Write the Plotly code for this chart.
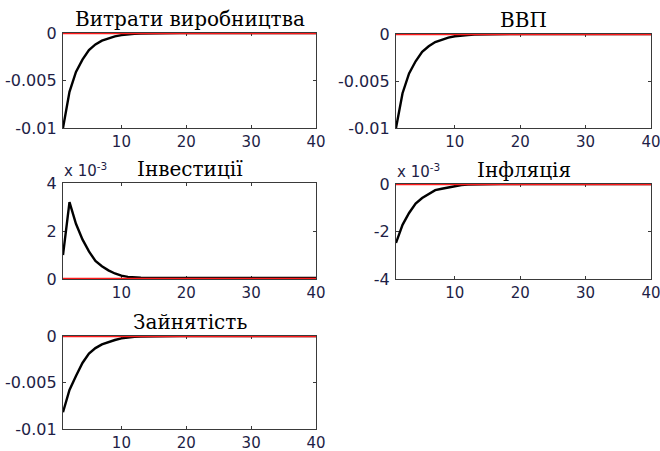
import plotly.graph_objects as go

# Impulse responses over 40 periods
periods = list(range(1, 41))

costs = [-0.0100, -0.0062, -0.0041, -0.0028, -0.0018, -0.0012, -0.00080, -0.00055,
         -0.00036, -0.00022, -0.00014, -0.00009, -0.00006, -0.00004, -0.00003,
         -0.00002, -0.00001] + [0.0] * 23
gdp = [-0.0100, -0.0063, -0.0042, -0.0029, -0.0019, -0.0013, -0.00085, -0.00058,
       -0.00038, -0.00024, -0.00015, -0.00010, -0.00006, -0.00004, -0.00003,
       -0.00002, -0.00001] + [0.0] * 23
investment = [0.0010, 0.0032, 0.0023, 0.00165, 0.00115, 0.00075, 0.00053, 0.00036,
              0.00023, 0.00014, 0.00009, 0.00006, 0.00005, 0.00004, 0.00004] + [0.00004] * 25
inflation = [-0.00248, -0.00172, -0.00122, -0.00082, -0.00059, -0.00042, -0.00026,
             -0.00020, -0.00014, -0.00008, -0.00004, -0.00002, -0.00001] + [0.0] * 27
employment = [-0.0082, -0.0058, -0.0043, -0.0029, -0.0019, -0.0013, -0.00090,
              -0.00064, -0.00043, -0.00025, -0.00015, -0.00009, -0.00005, -0.00003,
              -0.00002, -0.00001] + [0.0] * 24

titles = ["Витрати виробництва", "ВВП", "Інвестиції", "Інфляція", "Зайнятість"]
series = [costs, gdp, investment, inflation, employment]
scales = [1, 1, 1e3, 1e3, 1]
y_ranges = [(-0.01, 0), (-0.01, 0), (0, 4), (-4, 0), (-0.01, 0)]
y_ticks = [[-0.01, -0.005, 0], [-0.01, -0.005, 0], [0, 2, 4], [-4, -2, 0], [-0.01, -0.005, 0]]
y_ticklabels = [["-0.01", "-0.005", "0"], ["-0.01", "-0.005", "0"], ["0", "2", "4"],
                ["-4", "-2", "0"], ["-0.01", "-0.005", "0"]]
x_ticks = [10, 20, 30, 40]

W, H = 660, 451
# panel boxes in pixels: left, right, top, bottom
boxes = [(63, 316, 33, 128), (396, 651, 34, 128), (63, 316, 183, 279),
         (396, 651, 184, 279), (63, 316, 336, 429)]

AX_COLOR = "#3a3a3a"
TICK_COLOR = "#1e1e46"

fig = go.Figure()
layout = dict(width=W, height=H, margin=dict(l=0, r=0, t=0, b=0, pad=0),
              paper_bgcolor="white", plot_bgcolor="white", showlegend=False)
annotations = []

for i, (title, vals, sc, yr, yt, ytl, box) in enumerate(
        zip(titles, series, scales, y_ranges, y_ticks, y_ticklabels, boxes)):
    n = "" if i == 0 else str(i + 1)
    xa, ya = "x" + n, "y" + n
    l, r, t, b = box
    y_vals = [v * sc for v in vals]
    fig.add_trace(go.Scatter(x=periods, y=y_vals, mode="lines",
                             line=dict(color="black", width=2.4),
                             xaxis=xa, yaxis=ya, hoverinfo="skip"))
    # zero reference line, drawn over the response
    fig.add_trace(go.Scatter(x=[periods[0], periods[-1]], y=[0, 0], mode="lines",
                             line=dict(color="#ff1a1a", width=2.4),
                             xaxis=xa, yaxis=ya, hoverinfo="skip"))
    common = dict(showline=True, linecolor=AX_COLOR, linewidth=1.3, mirror="ticks",
                  ticks="inside", ticklen=3, tickcolor=AX_COLOR, tickwidth=1,
                  showgrid=False, zeroline=False, layer="below traces", automargin=False,
                  ticklabeloverflow="allow")
    layout["xaxis" + n] = dict(domain=[l / W, r / W], range=[1, 40], anchor=ya,
                               tickvals=x_ticks, ticktext=[str(v) for v in x_ticks],
                               ticklabelstandoff=0,
                               tickfont=dict(family="DejaVu Sans", size=15, color=TICK_COLOR),
                               **common)
    layout["yaxis" + n] = dict(domain=[1 - b / H, 1 - t / H], range=list(yr), anchor=xa,
                               tickvals=yt, ticktext=ytl, ticklabelstandoff=2,
                               tickfont=dict(family="DejaVu Sans", size=16, color=TICK_COLOR),
                               **common)
    annotations.append(dict(text=title, x=(l + r) / 2 / W, y=1 - (t - 1) / H,
                            xref="paper", yref="paper", xanchor="center", yanchor="bottom",
                            showarrow=False, borderpad=0,
                            font=dict(family="DejaVu Serif", size=20, color="black")))
    if sc != 1:
        annotations.append(dict(text="x 10<sup>-3</sup>", x=(l - 1) / W, y=1 - (t - 1) / H,
                                xref="paper", yref="paper", xanchor="left", yanchor="bottom",
                                showarrow=False,
                                font=dict(family="DejaVu Sans", size=15, color=TICK_COLOR)))

layout["annotations"] = annotations
fig.update_layout(**layout)
fig.write_html("out.html")
